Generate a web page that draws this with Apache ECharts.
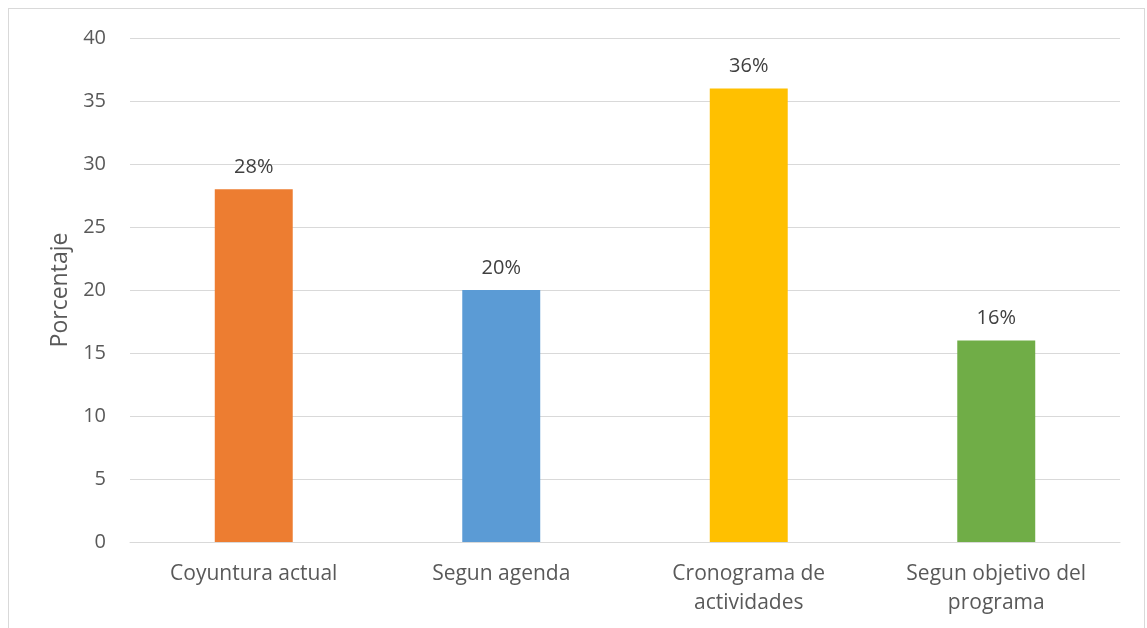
<!DOCTYPE html>
<html>
<head>
<meta charset="utf-8">
<script src="https://cdn.jsdelivr.net/npm/echarts@6/dist/echarts.min.js"></script>
<style>
  html, body { margin: 0; padding: 0; background: #fff; }
  #frame { position: absolute; left: 8px; top: 8px; width: 1137px; height: 630px; border: 1px solid #d9d9d9; box-sizing: border-box; }
  #chart { width: 1147px; height: 628px; }
</style>
</head>
<body>
<div id="frame"></div>
<div id="chart"></div>
<script>
// data
const categories = ['Coyuntura actual', 'Segun agenda', 'Cronograma de\nactividades', 'Segun objetivo del\nprograma'];
const values = [28, 20, 36, 16];
const barColors = ['#ED7D31', '#5B9BD5', '#FFC000', '#70AD47'];
const yTicks = { min: 0, max: 40, interval: 5 };

const chart = echarts.init(document.getElementById('chart'));
const font = '"Open Sans", sans-serif';

chart.setOption({
    animation: false,
    grid: { left: 130, right: 27, top: 38, bottom: 86 },
    xAxis: {
        type: 'category',
        data: categories,
        axisTick: { show: false },
        axisLine: { lineStyle: { color: '#d9d9d9', width: 1 } },
        axisLabel: { color: '#595959', fontSize: 21, fontFamily: font, margin: 18, lineHeight: 29, interval: 0 }
    },
    yAxis: {
        type: 'value',
        min: yTicks.min,
        max: yTicks.max,
        interval: yTicks.interval,
        name: 'Porcentaje',
        nameLocation: 'middle',
        nameGap: 56,
        nameTextStyle: { color: '#595959', fontSize: 23, fontFamily: font },
        axisLabel: { color: '#595959', fontSize: 20, fontFamily: font, margin: 24 },
        splitLine: { lineStyle: { color: '#d9d9d9', width: 1 } }
    },
    series: [{
        type: 'bar',
        barWidth: '31.5%',
        data: values.map((v, i) => ({ value: v, itemStyle: { color: barColors[i] } })),
        label: {
            show: true,
            position: 'top',
            distance: 12,
            formatter: p => p.value + '%',
            color: '#404040',
            fontSize: 20,
            fontFamily: font
        }
    }]
});
</script>
</body>
</html>
